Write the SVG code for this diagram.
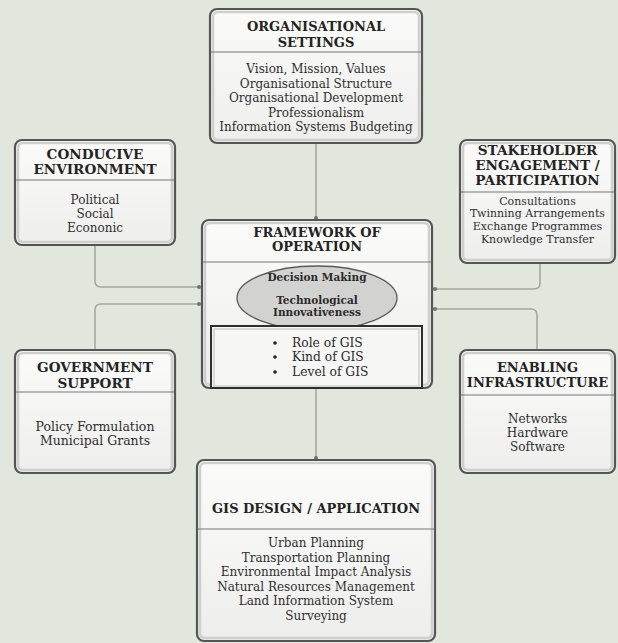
<svg xmlns="http://www.w3.org/2000/svg" width="618" height="643" viewBox="0 0 618 643">
<defs>
<linearGradient id="bg" x1="0" y1="0" x2="0" y2="1">
<stop offset="0" stop-color="#fbfbfa"/>
<stop offset="1" stop-color="#eeeeec"/>
</linearGradient>
<marker id="dot" viewBox="0 0 6 6" refX="3" refY="3" markerWidth="4" markerHeight="4" markerUnits="userSpaceOnUse">
<circle cx="3" cy="3" r="3" fill="#6f736c"/>
</marker>
<style>
.box{fill:url(#bg);stroke:#555;stroke-width:2.2}
.inner{fill:none;stroke:#cfcfcc;stroke-width:2.5}
.div{stroke:#777;stroke-width:1.2}
.t{font-family:"DejaVu Serif","Liberation Serif",serif;font-weight:bold;font-size:13px;fill:#232323;text-anchor:middle}
.t14{font-size:13.6px}
.b{font-family:"DejaVu Serif","Liberation Serif",serif;font-size:12px;fill:#2f2f2f;text-anchor:middle}
.e{font-family:"DejaVu Serif","Liberation Serif",serif;font-weight:bold;font-size:10.5px;fill:#2a2a2a;text-anchor:middle}
.bl{font-family:"DejaVu Serif","Liberation Serif",serif;font-size:12.3px;fill:#2a2a2a}
.c{fill:none;stroke:#a4a9a0;stroke-width:1.6;marker-end:url(#dot)}
</style>
</defs>
<rect width="618" height="643" fill="#e2e7dd"/>
<g id="connectors">
<path class="c" d="M316,143 V218"/>
<path class="c" d="M316,388 V458"/>
<path class="c" d="M95,245 V281 Q95,287 101,287 H199"/>
<path class="c" d="M95,350 V310 Q95,304 101,304 H199"/>
<path class="c" d="M540,263 V283 Q540,289 534,289 H435"/>
<path class="c" d="M537,350 V315 Q537,309 531,309 H435"/>
</g>
<g id="organisational-settings">
<rect class="box" x="210" y="9" width="212" height="134" rx="7"/>
<rect class="inner" x="213" y="12" width="206" height="128" rx="5"/>
<line class="div" x1="211" y1="52" x2="421" y2="52"/>
<text class="t" x="316" y="31">ORGANISATIONAL</text>
<text class="t" x="316" y="47">SETTINGS</text>
<text class="b" x="316" y="73">Vision, Mission, Values</text>
<text class="b" x="316" y="87.5">Organisational Structure</text>
<text class="b" x="316" y="102">Organisational Development</text>
<text class="b" x="316" y="116.5">Professionalism</text>
<text class="b" x="316" y="131">Information Systems Budgeting</text>
</g>
<g id="conducive-environment">
<rect class="box" x="15" y="140" width="160" height="105" rx="7"/>
<rect class="inner" x="18" y="143" width="154" height="99" rx="5"/>
<line class="div" x1="16" y1="180" x2="174" y2="180"/>
<text class="t t14" x="95" y="158.5">CONDUCIVE</text>
<text class="t t14" x="95" y="174">ENVIRONMENT</text>
<text class="b" x="95" y="204">Political</text>
<text class="b" x="95" y="218">Social</text>
<text class="b" x="95" y="232">Econonic</text>
</g>
<g id="stakeholder-engagement">
<rect class="box" x="460" y="140" width="155" height="123" rx="7"/>
<rect class="inner" x="463" y="143" width="149" height="117" rx="5"/>
<line class="div" x1="461" y1="192" x2="614" y2="192"/>
<text class="t t14" x="537.5" y="155">STAKEHOLDER</text>
<text class="t t14" x="537.5" y="169.5">ENGAGEMENT /</text>
<text class="t t14" x="537.5" y="184.5">PARTICIPATION</text>
<text class="b" x="537.5" y="204.5" style="font-size:11px">Consultations</text>
<text class="b" x="537.5" y="217.2" style="font-size:11px">Twinning Arrangements</text>
<text class="b" x="537.5" y="229.9" style="font-size:11px">Exchange Programmes</text>
<text class="b" x="537.5" y="242.6" style="font-size:11px">Knowledge Transfer</text>
</g>
<g id="framework-of-operation">
<rect class="box" x="202" y="220" width="230" height="168" rx="7"/>
<rect class="inner" x="205" y="223" width="224" height="162" rx="5"/>
<line class="div" x1="203" y1="262" x2="431" y2="262"/>
<text class="t" x="317" y="237">FRAMEWORK OF</text>
<text class="t" x="317" y="251">OPERATION</text>
<ellipse cx="317" cy="298" rx="80" ry="32" fill="#d2d2d0" stroke="#5a5a5a" stroke-width="1.3"/>
<text class="e" x="317" y="281">Decision Making</text>
<text class="e" x="317" y="304">Technological</text>
<text class="e" x="317" y="316">Innovativeness</text>
<rect x="211" y="326" width="211" height="62" fill="#f6f6f5" stroke="#2e2e2e" stroke-width="2"/>
<rect x="214" y="329" width="205" height="57" fill="none" stroke="#cfcfcc" stroke-width="1.5"/>
<circle cx="275" cy="343" r="1.8" fill="#222"/>
<circle cx="275" cy="357" r="1.8" fill="#222"/>
<circle cx="275" cy="372" r="1.8" fill="#222"/>
<text class="bl" x="292" y="347">Role of GIS</text>
<text class="bl" x="292" y="361">Kind of GIS</text>
<text class="bl" x="292" y="376">Level of GIS</text>
</g>
<g id="government-support">
<rect class="box" x="15" y="350" width="160" height="123" rx="7"/>
<rect class="inner" x="18" y="353" width="154" height="117" rx="5"/>
<line class="div" x1="16" y1="392" x2="174" y2="392"/>
<text class="t t14" x="95" y="372">GOVERNMENT</text>
<text class="t t14" x="95" y="387.5">SUPPORT</text>
<text class="b" x="95" y="431" style="font-size:12.5px">Policy Formulation</text>
<text class="b" x="95" y="445" style="font-size:12.5px">Municipal Grants</text>
</g>
<g id="enabling-infrastructure">
<rect class="box" x="460" y="350" width="155" height="123" rx="7"/>
<rect class="inner" x="463" y="353" width="149" height="117" rx="5"/>
<line class="div" x1="461" y1="395" x2="614" y2="395"/>
<text class="t" x="537.5" y="372">ENABLING</text>
<text class="t" x="537.5" y="387">INFRASTRUCTURE</text>
<text class="b" x="537.5" y="423">Networks</text>
<text class="b" x="537.5" y="437">Hardware</text>
<text class="b" x="537.5" y="451">Software</text>
</g>
<g id="gis-design-application">
<rect class="box" x="197" y="460" width="238" height="181" rx="7"/>
<rect class="inner" x="200" y="463" width="232" height="175" rx="5"/>
<line class="div" x1="198" y1="529" x2="434" y2="529"/>
<text class="t" x="316" y="513">GIS DESIGN / APPLICATION</text>
<text class="b" x="316" y="547">Urban Planning</text>
<text class="b" x="316" y="561.5">Transportation Planning</text>
<text class="b" x="316" y="576">Environmental Impact Analysis</text>
<text class="b" x="316" y="590.5">Natural Resources Management</text>
<text class="b" x="316" y="605">Land Information System</text>
<text class="b" x="316" y="619.5">Surveying</text>
</g>
</svg>
